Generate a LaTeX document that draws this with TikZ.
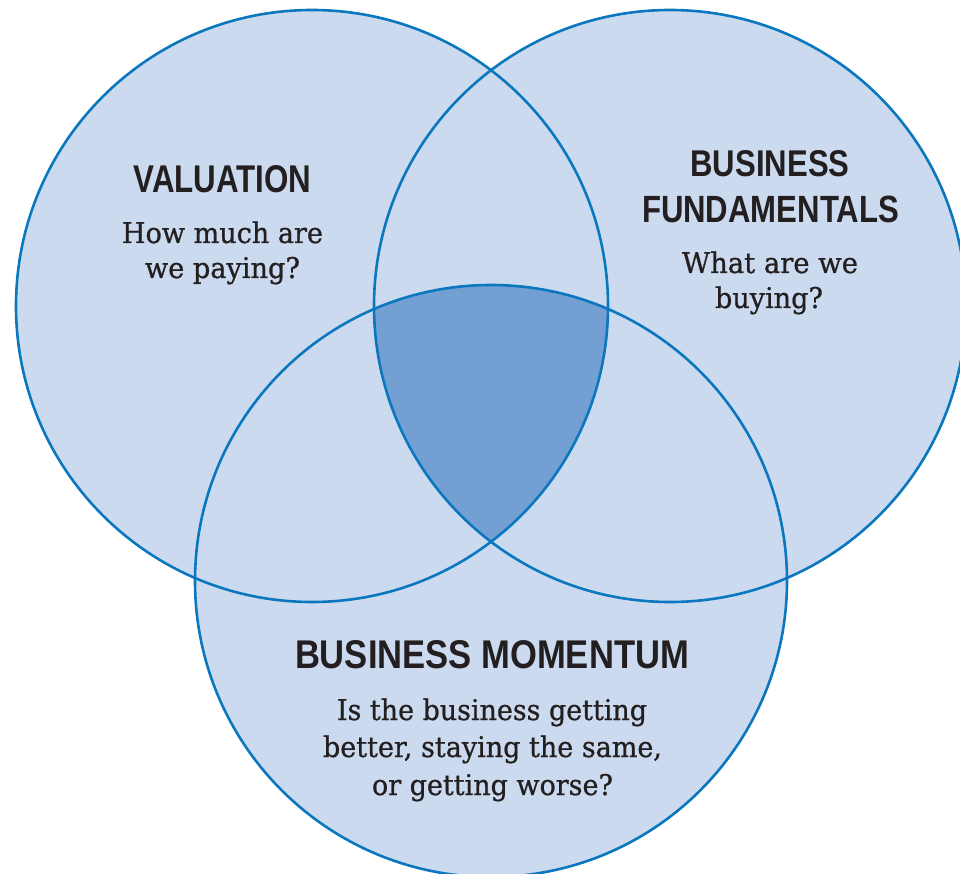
\documentclass[tikz,border=0pt]{standalone}
\usepackage{fontspec}
\setmainfont{DejaVu Serif}
\newfontfamily\bodyfont[FakeBold=0.8]{DejaVu Serif}
\newfontfamily\headfont{Liberation Sans}
\usepackage{graphicx}
\definecolor{vfill}{HTML}{CCDAEF}
\definecolor{vdark}{HTML}{749FD3}
\definecolor{vline}{HTML}{0A77BE}
\definecolor{vtext}{HTML}{231F20}
\newcommand{\hdtxt}[3]{\resizebox{#1pt}{#2pt}{\headfont\bfseries #3}}
\newcommand{\bdtxt}[2]{\resizebox{#1pt}{\height}{#2}}
\begin{document}
\begin{tikzpicture}[x=1pt,y=-1pt,
  head/.style={anchor=base, inner sep=0pt, text=vtext, font=\fontsize{38}{46}\selectfont},
  body/.style={anchor=base, inner sep=0pt, text=vtext, font=\bodyfont\fontsize{28.5}{37}\selectfont},
  ring/.style={draw=vline, line width=2.6pt}]
\useasboundingbox (0,0) rectangle (960,874);
\clip (0,0) rectangle (960,874);
% circle fills
\fill[vfill] (312,306) circle[radius=296pt];
\fill[vfill] (670,306) circle[radius=296pt];
\fill[vfill] (491,581) circle[radius=296pt];
% triple intersection
\begin{scope}
  \clip (312,306) circle[radius=296pt];
  \clip (670,306) circle[radius=296pt];
  \fill[vdark] (491,581) circle[radius=296pt];
\end{scope}
% outlines
\draw[ring] (312,306) circle[radius=296pt];
\draw[ring] (670,306) circle[radius=296pt];
\draw[ring] (491,581) circle[radius=296pt];
% Valuation
\node[head] (valT) at (222.5,193) {\hdtxt{178}{27}{VALUATION}};
\node[body] (valA) at (222.5,243) {\bdtxt{201}{How much are}};
\node[body] (valB) at (222.5,278) {\bdtxt{155}{we paying?}};
% Business fundamentals
\node[head] (funT1) at (770,177) {\hdtxt{159}{26}{BUSINESS}};
\node[head] (funT2) at (770.5,223) {\hdtxt{257}{26.5}{FUNDAMENTALS}};
\node[body] (funA) at (770,273) {\bdtxt{176}{What are we}};
\node[body] (funB) at (769,308) {\bdtxt{108}{buying?}};
% Business momentum
\node[head] (momT) at (492,668) {\hdtxt{394}{28}{BUSINESS MOMENTUM}};
\node[body] (momA) at (492,720) {\bdtxt{310}{Is the business getting}};
\node[body] (momB) at (492.5,757) {\bdtxt{339}{better, staying the same,}};
\node[body] (momC) at (492.5,795) {\bdtxt{241}{or getting worse?}};
\end{tikzpicture}
\end{document}
